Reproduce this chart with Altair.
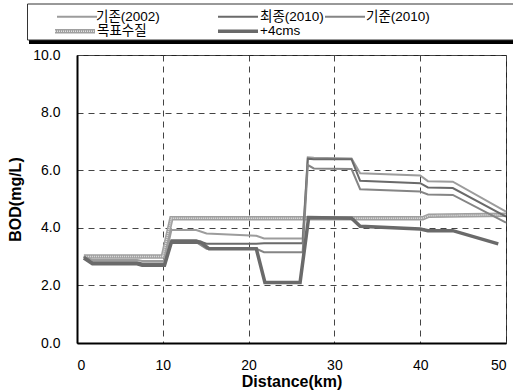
import altair as alt
import pandas as pd

FONT = "Liberation Sans, Arial, Noto Sans CJK KR"

# ---- data ----
names = ["기존(2002)", "최종(2010)", "기준(2010)", "목표수질", "+4cms"]

x_thin = [0.8, 1.8, 7.0, 7.6, 10.2, 11.0, 13.9, 15.1, 20.9, 21.8, 26.3, 26.9, 27.6, 32.0, 33.0, 40.0, 40.9, 43.8, 50.0]
y_2002 = [3.0, 2.88, 2.88, 2.85, 2.85, 3.92, 3.92, 3.80, 3.72, 3.63, 3.63, 6.45, 6.43, 6.41, 5.89, 5.82, 5.62, 5.60, 4.56]
y_final = [3.0, 2.80, 2.80, 2.76, 2.76, 3.57, 3.57, 3.45, 3.45, 3.46, 3.46, 6.40, 6.38, 6.38, 5.63, 5.55, 5.40, 5.38, 4.39]
y_base = [3.0, 2.75, 2.75, 2.72, 2.72, 3.50, 3.50, 3.27, 3.27, 3.15, 3.15, 6.18, 6.06, 6.04, 5.34, 5.26, 5.16, 5.14, 4.18]

x_target = [0.8, 10.0, 11.0, 40.3, 41.0, 50.0]
y_target = [3.0, 3.0, 4.33, 4.33, 4.42, 4.45]

x_4cms = [0.8, 1.8, 7.0, 7.6, 10.2, 11.0, 14.4, 15.4, 20.9, 21.9, 26.0, 27.0, 32.0, 33.0, 40.0, 40.9, 43.8, 49.1]
y_4cms = [2.95, 2.75, 2.75, 2.70, 2.70, 3.50, 3.50, 3.27, 3.27, 2.10, 2.10, 4.36, 4.33, 4.05, 3.96, 3.90, 3.90, 3.44]

x_ticks = [0, 10, 20, 30, 40, 50]
y_ticks = [0, 2, 4, 6, 8, 10]

colors = {"기존(2002)": "#9c9c9c", "최종(2010)": "#6a6a6a", "기준(2010)": "#858585"}

rows = []
for nm, ys in [("기존(2002)", y_2002), ("최종(2010)", y_final), ("기준(2010)", y_base)]:
    for i, (xv, yv) in enumerate(zip(x_thin, ys)):
        rows.append({"s": nm, "i": i, "x": xv, "y": yv})
df_thin = pd.DataFrame(rows)
df_target = pd.DataFrame({"i": range(len(x_target)), "x": x_target, "y": y_target})
df_4 = pd.DataFrame({"i": range(len(x_4cms)), "x": x_4cms, "y": y_4cms})

xs = alt.Scale(domain=[0, 50], nice=False, zero=False)
ys_ = alt.Scale(domain=[0, 10], nice=False)

xax = alt.Axis(values=x_ticks, title="Distance(km)", ticks=False, labelPadding=15,
               titlePadding=1, grid=True, gridDash=[6, 5], gridColor="#444", gridWidth=1,
               domainColor="black", domainWidth=2, labelFontSize=14, titleFontSize=16,
               titleFontWeight="bold", labelColor="black", titleColor="black")
yax = alt.Axis(values=y_ticks, format=".1f", title="BOD(mg/L)", ticks=False, labelPadding=17,
               titlePadding=9, grid=True, gridDash=[6, 5], gridColor="#444", gridWidth=1,
               domainColor="black", domainWidth=2, labelFontSize=14, titleFontSize=16,
               titleFontWeight="bold", labelColor="black", titleColor="black")

X = alt.X("x:Q", scale=xs, axis=xax)
Y = alt.Y("y:Q", scale=ys_, axis=yax)

target_base = alt.Chart(df_target).mark_line(color="#a0a0a0", strokeWidth=4.5).encode(
    x=X, y=Y, order="i:Q")
target_dots = alt.Chart(df_target).mark_line(color="#e2e2e2", strokeWidth=1.5, strokeDash=[1, 1]).encode(
    x="x:Q", y="y:Q", order="i:Q")

thin = alt.Chart(df_thin).mark_line(strokeWidth=2).encode(
    x="x:Q", y="y:Q", order="i:Q",
    color=alt.Color("s:N", scale=alt.Scale(domain=list(colors.keys()), range=list(colors.values())), legend=None),
    detail="s:N")

thick = alt.Chart(df_4).mark_line(color="#6a6a6a", strokeWidth=3.5).encode(
    x="x:Q", y="y:Q", order="i:Q")

one = alt.Data(values=[{"a": 1}])

# ---- legend (decoration) ----
shadow = alt.Chart(one).mark_rect(color="black").encode(
    x=alt.value(-48), x2=alt.value(450), y=alt.value(-47), y2=alt.value(-11))
box = alt.Chart(one).mark_rect(fill="white", stroke="#333", strokeWidth=1).encode(
    x=alt.value(-49.5), x2=alt.value(450), y=alt.value(-51), y2=alt.value(-15))

leg_layers = []
def leg_line(x0, yv, color, w, dash=None):
    kw = dict(color=color, strokeWidth=w)
    if dash:
        kw["strokeDash"] = dash
    return alt.Chart(one).mark_rule(**kw).encode(
        x=alt.value(x0), x2=alt.value(x0 + 40), y=alt.value(yv))

def leg_text(x0, yv, t):
    return alt.Chart(one).mark_text(text=t, align="left", baseline="middle", font=FONT,
                                    fontSize=13.5, color="black").encode(
        x=alt.value(x0), y=alt.value(yv))

r1, r2 = -38.3, -23.8
leg_layers += [leg_line(-20, r1, colors["기존(2002)"], 2), leg_text(19, r1, names[0])]
leg_layers += [leg_line(141, r1, colors["최종(2010)"], 2), leg_text(183, r1, names[1])]
leg_layers += [leg_line(248, r1, colors["기준(2010)"], 2), leg_text(289, r1, names[2])]
leg_layers += [leg_line(-22, r2, "#a0a0a0", 4.5), leg_line(-22, r2, "#e2e2e2", 1.5, [1, 1]),
               leg_text(20, r2, names[3])]
leg_layers += [leg_line(141, r2, "#6a6a6a", 3.5), leg_text(183, r2, names[4])]

chart = alt.layer(target_base, target_dots, thin, thick, shadow, box, *leg_layers).properties(
    width=429, height=288,
    autosize=alt.AutoSizeParams(type="none"),
    padding={"left": 77, "top": 55, "right": 7, "bottom": 49},
    background="white",
).configure_view(stroke="#222", strokeWidth=1).configure_axis(
    labelFont=FONT, titleFont=FONT)

chart.save("out.html", embed_options={"renderer": "svg", "actions": False})
